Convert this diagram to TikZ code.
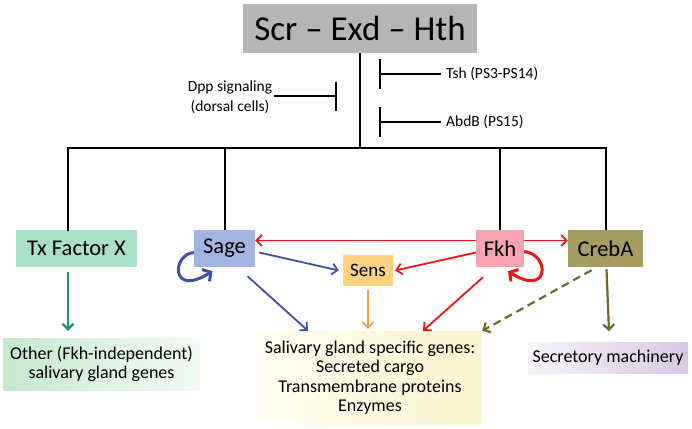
\documentclass[tikz,border=0pt]{standalone}
\usepackage{fontspec}
\setmainfont{Carlito}
\usetikzlibrary{arrows.meta}
\definecolor{topgray}{RGB}{182,182,182}
\definecolor{txfill}{RGB}{169,224,200}
\definecolor{sagefill}{RGB}{164,180,224}
\definecolor{sensfill}{RGB}{252,209,127}
\definecolor{fkhfill}{RGB}{249,163,176}
\definecolor{crebfill}{RGB}{165,156,98}
\definecolor{blueA}{RGB}{64,80,170}
\definecolor{redA}{RGB}{240,20,20}
\definecolor{orangeA}{RGB}{247,160,75}
\definecolor{tealA}{RGB}{22,150,120}
\definecolor{oliveA}{RGB}{110,106,46}
\definecolor{greenL}{RGB}{196,233,205}
\definecolor{greenR}{RGB}{244,251,245}
\definecolor{purpL}{RGB}{247,243,249}
\definecolor{purpR}{RGB}{216,199,228}
\definecolor{yelL}{RGB}{255,253,240}
\definecolor{yelR}{RGB}{252,245,208}
\tikzset{
  box/.style={inner sep=0pt, minimum height=37pt, font=\fontsize{22.5}{24}\selectfont},
  tree/.style={line width=2pt, black},
  teeline/.style={line width=2pt, black},
  carrow/.style={line width=1.8pt, -{Straight Barb[length=5.5pt,width=11pt]}},
  looparrow/.style={line width=3pt, -{Straight Barb[length=6pt,width=14pt]}},
  smalltext/.style={font=\fontsize{15.5}{20}\selectfont, inner sep=0pt},
  bottomtext/.style={font=\fontsize{18}{19.5}\selectfont, align=center, inner sep=0pt},
}
\begin{document}
\begin{tikzpicture}[x=1pt,y=-1pt]
\useasboundingbox (0,0) rectangle (692,428);

% top box
\node[fill=topgray, minimum width=234pt, minimum height=49pt, inner sep=0pt,
      font=\fontsize{35}{36}\selectfont] (top) at (360,28.5) {Scr -- Exd -- Hth};

% repressor labels
\node[smalltext, align=center] (dpp) at (230,97) {Dpp signaling\\(dorsal cells)};
\coordinate (dppbar) at (337,96);
\draw[teeline, -{Bar[width=29pt,line width=2pt]}] ([xshift=2pt,yshift=1pt]dpp.east) -- (dppbar);

\node[smalltext, anchor=west] (tsh) at (446,74) {Tsh (PS3-PS14)};
\coordinate (tshbar) at (379,74);
\draw[teeline, -{Bar[width=30pt,line width=2pt]}] ([xshift=-5pt]tsh.west) -- (tshbar);

\node[smalltext, anchor=west] (abdb) at (446,122) {AbdB (PS15)};
\coordinate (abdbbar) at (379,122);
\draw[teeline, -{Bar[width=30pt,line width=2pt]}] ([xshift=-5pt]abdb.west) -- (abdbbar);

% second row
\node[box, fill=txfill, minimum width=121pt] (tx) at (76.5,248.5) {Tx Factor X};
\node[box, fill=sagefill, minimum width=61pt] (sage) at (224.5,248.5) {Sage};
\node[box, fill=fkhfill, minimum width=48pt] (fkh) at (500,248.5) {Fkh};
\node[box, fill=crebfill, minimum width=75pt] (creb) at (605.5,248.5) {CrebA};
\node[box, fill=sensfill, minimum width=50pt, minimum height=31pt,
      font=\fontsize{19}{20}\selectfont] (sens) at (368,270.5) {Sens};

% bottom boxes
\node[bottomtext, minimum width=197pt, minimum height=52pt,
      left color=greenL, right color=greenR] (other) at (101.5,364)
      {Other (Fkh-independent)\\salivary gland genes};
\node[bottomtext, minimum width=224pt, minimum height=93pt,
      left color=yelL, right color=yelR] (sal) at (370,377.5)
      {Salivary gland specific genes:\\Secreted cargo\\Transmembrane proteins\\Enzymes};
\node[bottomtext, minimum width=160pt, minimum height=31pt,
      left color=purpL, right color=purpR] (secr) at (608,358)
      {Secretory machinery};

% tree
\coordinate (j) at (360,148);
\draw[tree] (top.south) -- (j);
\coordinate (txdrop) at (68,231);
\draw[tree] (txdrop) |- (j) -| (creb.north);
\draw[tree] (sage.north) -- (sage.north |- j);
\draw[tree] (fkh.north) -- (fkh.north |- j);

% colored arrows (yshift is in page direction: positive = up)
\draw[carrow, redA] ([yshift=8pt]fkh.west) -- ([yshift=8pt]sage.east);
\draw[carrow, redA] ([yshift=8pt]fkh.east) -- ([yshift=8pt]creb.west);
\draw[carrow, redA] ([yshift=-4pt]fkh.west) -- ([xshift=2pt]sens.east);
\draw[carrow, blueA] ([xshift=4pt,yshift=-4pt]sage.east) -- ([xshift=-4pt]sens.west);
\coordinate (salA) at (308,331);
\coordinate (salB) at (368,330);
\coordinate (salC) at (423,331);
\draw[carrow, blueA] ([xshift=23pt,yshift=-9pt]sage.south) -- (sal.north -| salA);
\draw[carrow, orangeA] ([yshift=-4pt]sens.south) -- ([yshift=2pt]sal.north -| salB);
\draw[carrow, redA] ([xshift=-17pt,yshift=-10pt]fkh.south) -- (sal.north -| salC);
\draw[carrow, oliveA, line width=2.2pt, dash pattern=on 8pt off 5pt]
      ([xshift=-14pt,yshift=-3pt]creb.south) -- (sal.north east);
\draw[carrow, oliveA, line width=2.2pt] ([xshift=1pt,yshift=-2pt]creb.south) -- ([xshift=1pt,yshift=11pt]secr.north);
\draw[carrow, tealA, line width=2.2pt] ([yshift=-5pt]tx.south -| txdrop) -- ([yshift=7pt]other.north -| txdrop);

% self loops
\draw[looparrow, blueA] ([yshift=-4pt]sage.west)
   .. controls (172,254) and (170,298) .. ([xshift=-12pt,yshift=-4pt]sage.south);
\draw[looparrow, redA] ([yshift=-3pt]fkh.east)
   .. controls (550,254) and (550,298) .. ([xshift=8pt,yshift=-4pt]fkh.south);
\end{tikzpicture}
\end{document}
